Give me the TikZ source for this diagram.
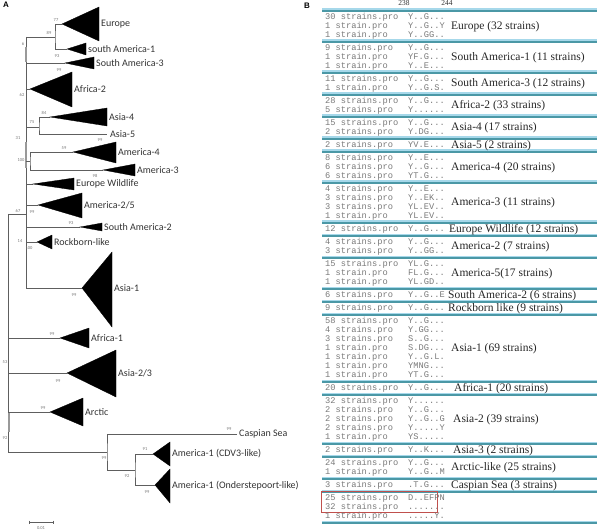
\documentclass[tikz,border=0pt]{standalone}
\usepackage{fontspec}
\setmainfont{Liberation Serif}
\setsansfont{Liberation Sans}
\setmonofont{Liberation Mono}
\newfontfamily\cladefont{Carlito}
\usepackage{tikz}
\definecolor{branch}{HTML}{5E5E5E}
\definecolor{seqgray}{HTML}{7A7A7A}
\definecolor{septeal}{HTML}{4B98A6}
\definecolor{seplight}{HTML}{A6D8EA}
\definecolor{boxred}{HTML}{C0504D}
\tikzset{
  br/.style={draw=branch, line width=0.6bp},
  shade/.style={draw=black!40, line width=1.6bp},
  clade/.style={fill=black, draw=black, line width=0.3bp},
  lab/.style={anchor=west, inner sep=1bp, font=\cladefont\fontsize{10bp}{11bp}\selectfont, text=black!80},
  bs/.style={inner sep=0pt, font=\cladefont\fontsize{4.5bp}{5bp}\selectfont, text=black!55},
  mono/.style={anchor=west, inner sep=0pt, text height=5.8bp, text depth=1.4bp, font=\ttfamily\fontsize{8.7bp}{9bp}\selectfont, text=seqgray},
  grp/.style={anchor=west, inner sep=0pt, font=\fontsize{11.5bp}{12bp}\selectfont, text=black!85},
  hdr/.style={inner sep=0pt, font=\fontsize{7.5bp}{8bp}\selectfont, text=black!80},
  panel/.style={inner sep=0pt, font=\sffamily\bfseries\fontsize{8bp}{9bp}\selectfont},
}
\begin{document}
\begin{tikzpicture}[x=1bp, y=-1bp]
\useasboundingbox (0,0) rectangle (600,531);
% panel A: tree
\node[panel] (pA) at (6,5) {A};
\coordinate (r0) at (8,214);
\coordinate (r1) at (8,452);
\coordinate (tU) at (26,37);
\coordinate (tM) at (26,214);
\coordinate (tL) at (26,288);
\draw[br] (tU) -- (tL);
\draw[br] (r0) -- (tM);
\draw[br] (r0) -- (r1);
\draw[shade] (26,47) -- (26,62);
\draw[shade] (26,142) -- (26,168);
\draw[shade] (9,412) -- (9,432);
% upper clades
\coordinate (nEu) at (55,37);
\coordinate (aEu) at (62,24);
\coordinate (aSAa) at (67,49);
\draw[br] (tU) -- (nEu);
\draw[br] (aEu) -| (nEu) |- (aSAa);
\fill[clade] (aEu) -- (99,7) -- (99,41) -- cycle;
\fill[clade] (aSAa) -- (86,43) -- (86,55) -- cycle;
\coordinate (aSAc) at (65,63);
\draw[br] (tU |- aSAc) -- (aSAc);
\fill[clade] (aSAc) -- (94,57) -- (94,69) -- cycle;
\coordinate (aAfb) at (30,89);
\draw[br] (tU |- aAfb) -- (aAfb);
\fill[clade] (aAfb) -- (72,72) -- (72,107) -- cycle;
\coordinate (nAs) at (39,127);
\coordinate (aAsd) at (50,117);
\coordinate (eAse) at (107,134);
\draw[br] (tU |- nAs) -- (nAs);
\draw[br] (aAsd) -| (nAs) |- (eAse);
\fill[clade] (aAsd) -- (107,108) -- (107,126) -- cycle;
\coordinate (nAm) at (30,161);
\coordinate (aAmd) at (73,152);
\coordinate (aAmc) at (103,170);
\draw[br] (tU |- nAm) -- (nAm);
\draw[br] (aAmd) -| (nAm) |- (aAmc);
\fill[clade] (aAmd) -- (116,142) -- (116,163) -- cycle;
\fill[clade] (aAmc) -- (135,164) -- (135,176) -- cycle;
\coordinate (aEW) at (33,184);
\draw[br] (tU |- aEW) -- (aEW);
\fill[clade] (aEW) -- (74,178) -- (74,190) -- cycle;
\coordinate (aAmb) at (38,205);
\draw[br] (tU |- aAmb) -- (aAmb);
\fill[clade] (aAmb) -- (82,193) -- (82,218) -- cycle;
\coordinate (aSAb) at (80,227);
\draw[br] (tU |- aSAb) -- (aSAb);
\fill[clade] (aSAb) -- (102,223) -- (102,231) -- cycle;
\coordinate (aRb) at (37,242);
\draw[br] (tU |- aRb) -- (aRb);
\fill[clade] (aRb) -- (52,235) -- (52,249) -- cycle;
\coordinate (aAsa) at (82,288);
\draw[br] (tL) -- (aAsa);
\fill[clade] (aAsa) -- (112,252) -- (112,327) -- cycle;
% lower clades
\coordinate (aAfa) at (60,338);
\draw[br] (r0 |- aAfa) -- (aAfa);
\fill[clade] (aAfa) -- (89,328) -- (89,348) -- cycle;
\coordinate (aAsb) at (67,373);
\draw[br] (r0 |- aAsb) -- (aAsb);
\fill[clade] (aAsb) -- (116,350) -- (116,397) -- cycle;
\coordinate (aArc) at (50,412);
\draw[br] (r0 |- aArc) -- (aArc);
\fill[clade] (aArc) -- (83,398) -- (83,426) -- cycle;
\coordinate (nLo) at (107,452);
\coordinate (eCas) at (237,434);
\coordinate (nAa) at (135,470);
\draw[br] (r1) -- (nLo);
\draw[br] (eCas) -| (nLo) |- (nAa);
\coordinate (aCdv) at (153,454);
\coordinate (aOnd) at (155,485);
\draw[br] (aCdv) -| (nAa) |- (aOnd);
\fill[clade] (aCdv) -- (170,442) -- (170,466) -- cycle;
\fill[clade] (aOnd) -- (170,469) -- (170,503) -- cycle;
% clade labels
\node[lab] (lEu) at (100,24) {Europe};
\node[lab] (lSAa) at (87,49) {south America-1};
\node[lab] (lSAc) at (95,63) {South America-3};
\node[lab] (lAfb) at (73,89) {Africa-2};
\node[lab] (lAsd) at (108,117) {Asia-4};
\node[lab] (lAse) at (109,134) {Asia-5};
\node[lab] (lAmd) at (117,152) {America-4};
\node[lab] (lAmc) at (136,170) {America-3};
\node[lab] (lEW) at (75,184) {Europe Wildlife};
\node[lab] (lAmb) at (83,205) {America-2/5};
\node[lab] (lSAb) at (103,227) {South America-2};
\node[lab] (lRb) at (53,242) {Rockborn-like};
\node[lab] (lAsa) at (113,288) {Asia-1};
\node[lab] (lAfa) at (90,338) {Africa-1};
\node[lab] (lAsb) at (117,373) {Asia-2/3};
\node[lab] (lArc) at (84,412) {Arctic};
\node[lab] (lCas) at (238,434) {Caspian Sea};
\node[lab] (lCdv) at (171,454) {America-1 (CDV3-like)};
\node[lab] (lOnd) at (171,486) {America-1 (Onderstepoort-like)};
% bootstrap values
\node[bs] (b1) at (56,20) {77};
\node[bs] (b2) at (49,33) {89};
\node[bs] (b3) at (23,44) {6};
\node[bs] (b4) at (57,56) {93};
\node[bs] (b5) at (59,70) {99};
\node[bs] (b6) at (22,95) {62};
\node[bs] (b7) at (44,113) {84};
\node[bs] (b8) at (32,122) {75};
\node[bs] (b9) at (18,138) {31};
\node[bs] (b10) at (100,140) {99};
\node[bs] (b11) at (64,148) {59};
\node[bs] (b12) at (21,160) {100};
\node[bs] (b13) at (95,176) {98};
\node[bs] (b14) at (18,211) {67};
\node[bs] (b15) at (32,212) {99};
\node[bs] (b16) at (71,223) {93};
\node[bs] (b17) at (20,241) {14};
\node[bs] (b18) at (29,248) {100};
\node[bs] (b19) at (74,295) {99};
\node[bs] (b20) at (52,334) {99};
\node[bs] (b21) at (5,362) {53};
\node[bs] (b22) at (58,381) {99};
\node[bs] (b23) at (43,408) {99};
\node[bs] (b24) at (5,438) {92};
\node[bs] (b25) at (229,429) {99};
\node[bs] (b26) at (104,458) {99};
\node[bs] (b27) at (145,449) {91};
\node[bs] (b28) at (127,476) {92};
\node[bs] (b29) at (147,492) {99};
% scale bar
\coordinate (sb0) at (29,522);
\coordinate (sb1) at (53,522);
\draw[br] (sb0) -- (sb1);
\draw[br] (sb0) ++(0,-1.5) -- ++(0,3);
\draw[br] (sb1) ++(0,-1.5) -- ++(0,3);
\node[bs] (sbl) at (41,528) {0.01};
% panel B: table
\node[panel] (pB) at (307,6) {B};
\node[hdr] (h238) at (404,3) {238};
\node[hdr] (h244) at (447,3) {244};
\foreach \y in {11,42,73,95,117,139,152,183,223,236,258,289,302,315,382,395,444,457,479,492,523}{
  \draw[seplight, line width=1.4bp] (322,\y-1.8) -- (597,\y-1.8);
  \draw[septeal, line width=1.1bp] (322,\y) -- (597,\y);
}
\draw[boxred, line width=0.9bp] (321,491.5) rectangle (437,512.5);
\node[mono] (c1) at (325,17.5) {30 strains.pro}; \node[mono] (s1) at (408,17.5) {Y..G...};
\node[mono] (c2) at (325,26.5) {1 strain.pro}; \node[mono] (s2) at (408,26.5) {Y..G..Y};
\node[mono] (c3) at (325,35.5) {1 strain.pro}; \node[mono] (s3) at (408,35.5) {Y..GG..};
\node[mono] (c4) at (325,48.5) {9 strains.pro}; \node[mono] (s4) at (408,48.5) {Y..G...};
\node[mono] (c5) at (325,57.5) {1 strain.pro}; \node[mono] (s5) at (408,57.5) {YF.G...};
\node[mono] (c6) at (325,66.5) {1 strain.pro}; \node[mono] (s6) at (408,66.5) {Y..E...};
\node[mono] (c7) at (325,79.5) {11 strains.pro}; \node[mono] (s7) at (408,79.5) {Y..G...};
\node[mono] (c8) at (325,88.5) {1 strain.pro}; \node[mono] (s8) at (408,88.5) {Y..G.S.};
\node[mono] (c9) at (325,101.5) {28 strains.pro}; \node[mono] (s9) at (408,101.5) {Y..G...};
\node[mono] (c10) at (325,110.5) {5 strains.pro}; \node[mono] (s10) at (408,110.5) {Y......};
\node[mono] (c11) at (325,123.5) {15 strains.pro}; \node[mono] (s11) at (408,123.5) {Y..G...};
\node[mono] (c12) at (325,132.5) {2 strains.pro}; \node[mono] (s12) at (408,132.5) {Y.DG...};
\node[mono] (c13) at (325,145.5) {2 strains.pro}; \node[mono] (s13) at (408,145.5) {YV.E...};
\node[mono] (c14) at (325,158.5) {8 strains.pro}; \node[mono] (s14) at (408,158.5) {Y..E...};
\node[mono] (c15) at (325,167.5) {6 strains.pro}; \node[mono] (s15) at (408,167.5) {Y..G...};
\node[mono] (c16) at (325,176.5) {6 strains.pro}; \node[mono] (s16) at (408,176.5) {YT.G...};
\node[mono] (c17) at (325,189.5) {4 strains.pro}; \node[mono] (s17) at (408,189.5) {Y..E...};
\node[mono] (c18) at (325,198.5) {3 strains.pro}; \node[mono] (s18) at (408,198.5) {Y..EK..};
\node[mono] (c19) at (325,207.5) {3 strains.pro}; \node[mono] (s19) at (408,207.5) {YL.EV..};
\node[mono] (c20) at (325,216.5) {1 strain.pro}; \node[mono] (s20) at (408,216.5) {YL.EV..};
\node[mono] (c21) at (325,229.5) {12 strains.pro}; \node[mono] (s21) at (408,229.5) {Y..G...};
\node[mono] (c22) at (325,242.5) {4 strains.pro}; \node[mono] (s22) at (408,242.5) {Y..G...};
\node[mono] (c23) at (325,251.5) {3 strains.pro}; \node[mono] (s23) at (408,251.5) {Y..GG..};
\node[mono] (c24) at (325,264.5) {15 strains.pro}; \node[mono] (s24) at (408,264.5) {YL.G...};
\node[mono] (c25) at (325,273.5) {1 strain.pro}; \node[mono] (s25) at (408,273.5) {FL.G...};
\node[mono] (c26) at (325,282.5) {1 strain.pro}; \node[mono] (s26) at (408,282.5) {YL.GD..};
\node[mono] (c27) at (325,295.5) {6 strains.pro}; \node[mono] (s27) at (408,295.5) {Y..G..E};
\node[mono] (c28) at (325,308.5) {9 strains.pro}; \node[mono] (s28) at (408,308.5) {Y..G...};
\node[mono] (c29) at (325,321.5) {58 strains.pro}; \node[mono] (s29) at (408,321.5) {Y..G...};
\node[mono] (c30) at (325,330.5) {4 strains.pro}; \node[mono] (s30) at (408,330.5) {Y.GG...};
\node[mono] (c31) at (325,339.5) {3 strains.pro}; \node[mono] (s31) at (408,339.5) {S..G...};
\node[mono] (c32) at (325,348.5) {1 strain.pro}; \node[mono] (s32) at (408,348.5) {S.DG...};
\node[mono] (c33) at (325,357.5) {1 strain.pro}; \node[mono] (s33) at (408,357.5) {Y..G.L.};
\node[mono] (c34) at (325,366.5) {1 strain.pro}; \node[mono] (s34) at (408,366.5) {YMNG...};
\node[mono] (c35) at (325,375.5) {1 strain.pro}; \node[mono] (s35) at (408,375.5) {YT.G...};
\node[mono] (c36) at (325,388.5) {20 strains.pro}; \node[mono] (s36) at (408,388.5) {Y..G...};
\node[mono] (c37) at (325,401.5) {32 strains.pro}; \node[mono] (s37) at (408,401.5) {Y......};
\node[mono] (c38) at (325,410.5) {2 strains.pro}; \node[mono] (s38) at (408,410.5) {Y..G...};
\node[mono] (c39) at (325,419.5) {2 strains.pro}; \node[mono] (s39) at (408,419.5) {Y..G..G};
\node[mono] (c40) at (325,428.5) {2 strains.pro}; \node[mono] (s40) at (408,428.5) {Y.....Y};
\node[mono] (c41) at (325,437.5) {1 strain.pro}; \node[mono] (s41) at (408,437.5) {YS.....};
\node[mono] (c42) at (325,450.5) {2 strains.pro}; \node[mono] (s42) at (408,450.5) {Y..K...};
\node[mono] (c43) at (325,463.5) {24 strains.pro}; \node[mono] (s43) at (408,463.5) {Y..G...};
\node[mono] (c44) at (325,472.5) {1 strain.pro}; \node[mono] (s44) at (408,472.5) {Y..G..M};
\node[mono] (c45) at (325,485.5) {3 strains.pro}; \node[mono] (s45) at (408,485.5) {.T.G...};
\node[mono] (c46) at (325,498.5) {25 strains.pro}; \node[mono] (s46) at (408,498.5) {D..EFPN};
\node[mono] (c47) at (325,507.5) {32 strains.pro}; \node[mono] (s47) at (408,507.5) {.......};
\node[mono] (c48) at (325,516.5) {1 strain.pro}; \node[mono] (s48) at (408,516.5) {.....Y.};
% group labels
\node[grp] (g1) at (451,26.5) {Europe (32 strains)};
\node[grp] (g2) at (451,57.5) {South America-1 (11 strains)};
\node[grp] (g3) at (451,84) {South America-3 (12 strains)};
\node[grp] (g4) at (451,106) {Africa-2 (33 strains)};
\node[grp] (g5) at (451,128) {Asia-4 (17 strains)};
\node[grp] (g6) at (451,145.5) {Asia-5 (2 strains)};
\node[grp] (g7) at (451,167.5) {America-4 (20 strains)};
\node[grp] (g8) at (451,203) {America-3 (11 strains)};
\node[grp] (g9) at (449,229.5) {Europe Wildlife (12 strains)};
\node[grp] (g10) at (451,247) {America-2 (7 strains)};
\node[grp] (g11) at (451,273.5) {America-5(17 strains)};
\node[grp] (g12) at (448,295.5) {South America-2 (6 strains)};
\node[grp] (g13) at (448,308.5) {Rockborn like (9 strains)};
\node[grp] (g14) at (451,348.5) {Asia-1 (69 strains)};
\node[grp] (g15) at (454,388.5) {Africa-1 (20 strains)};
\node[grp] (g16) at (453,419.5) {Asia-2 (39 strains)};
\node[grp] (g17) at (453,450.5) {Asia-3 (2 strains)};
\node[grp] (g18) at (451,468) {Arctic-like (25 strains)};
\node[grp] (g19) at (451,485.5) {Caspian Sea (3 strains)};
\end{tikzpicture}
\end{document}
